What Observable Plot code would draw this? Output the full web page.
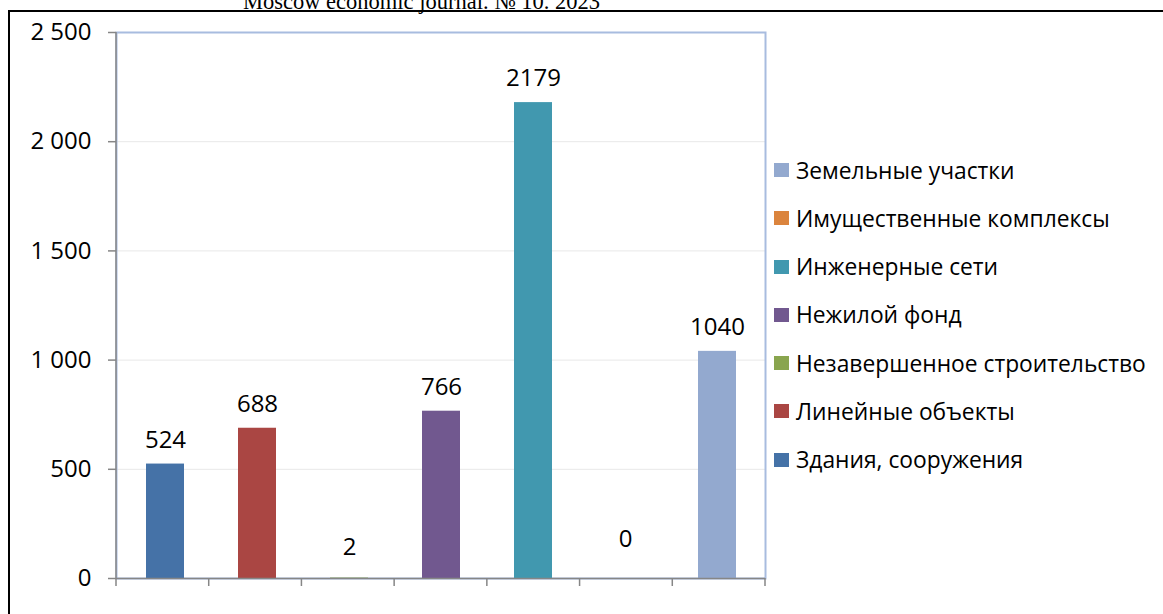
<!DOCTYPE html>
<html><head><meta charset="utf-8">
<script src="https://cdn.jsdelivr.net/npm/d3@7"></script>
<script src="https://cdn.jsdelivr.net/npm/@observablehq/plot@0.6"></script>
<style>
html,body{margin:0;padding:0;background:#fff;overflow:hidden}
#wrap{position:relative;width:1163px;height:614px;overflow:hidden;background:#fff}
#title{position:absolute;left:243px;top:-10px;font-family:"Liberation Serif","Times New Roman",serif;font-size:22.5px;line-height:24px;white-space:nowrap;color:#000}
#frame{position:absolute;left:8px;top:10px;width:2000px;height:2000px;border-top:2px solid #000;border-left:2px solid #000;box-sizing:border-box}
#chart{position:absolute;left:0;top:0}
#legend{position:absolute;left:774px;top:146px;font-family:"Open Sans",sans-serif;font-size:22.8px;color:#000}
#legend .row{display:flex;align-items:center;height:48.25px;white-space:nowrap}
#legend .sw{width:15px;height:14px;margin-right:7px;flex:none}
</style></head>
<body>
<div id="wrap">
  <div id="title">Moscow economic journal. № 10. 2023</div>
  <div id="frame"></div>
  <div id="chart"></div>
  <div id="legend"></div>
</div>
<script>
const categories = ["Здания, сооружения","Линейные объекты","Незавершенное строительство","Нежилой фонд","Инженерные сети","Имущественные комплексы","Земельные участки"];
const values = [524, 688, 2, 766, 2179, 0, 1040];
const colors = ["#4572a7","#aa4643","#89a54e","#71588f","#4198af","#db843d","#93a9cf"];
const yTicks = [0, 500, 1000, 1500, 2000, 2500];

const data = categories.map((c, i) => ({category: c, value: values[i]}));
const axisGray = "#868686";
const fmt = d3.formatLocale({thousands: " ", grouping: [3], decimal: ","}).format(",");

const boundaryTicks = (index, scales, vals, dims) => {
  const {marginLeft, marginRight, marginTop, marginBottom, width, height} = dims;
  const g = d3.create("svg:g").attr("stroke", axisGray).attr("stroke-width", 1.5);
  const y0 = height - marginBottom;
  g.append("line").attr("x1", marginLeft).attr("x2", marginLeft).attr("y1", marginTop).attr("y2", y0);
  const n = categories.length;
  const step = (width - marginLeft - marginRight) / n;
  for (let i = 0; i <= n; i++) {
    const x = marginLeft + i * step;
    g.append("line").attr("x1", x).attr("x2", x).attr("y1", y0).attr("y2", y0 + 8);
  }
  return g.node();
};

const small = d => d.value < 5;
const plot = Plot.plot({
  width: 1163, height: 614,
  marginLeft: 116, marginRight: 398, marginTop: 32, marginBottom: 36,
  style: {fontFamily: "'Open Sans', sans-serif", fontSize: "24px", color: "#000", background: "transparent", overflow: "visible"},
  x: {domain: categories, paddingInner: 0.59, paddingOuter: 0.295, axis: null},
  y: {domain: [0, 2500], axis: null},
  color: {domain: categories, range: colors},
  marks: [
    Plot.ruleY(yTicks.slice(1, -1), {stroke: "#e8e8e8", strokeWidth: 1}),
    Plot.frame({stroke: "#a8bcdf", strokeWidth: 2}),
    Plot.barY(data, {x: "category", y: "value", fill: "category"}),
    Plot.ruleY([0], {stroke: axisGray, strokeWidth: 1.5}),
    boundaryTicks,
    Plot.axisY({ticks: yTicks, tickFormat: fmt, tickSize: 8, tickPadding: 17, stroke: axisGray, strokeWidth: 1.5, fill: "#000", label: null, fontSize: 24}),
    Plot.text(data.filter(d => !small(d)), {x: "category", y: "value", text: d => String(d.value), dy: -24, fill: "#000", fontSize: 24}),
    Plot.text(data.filter(d => small(d) && d.value > 0), {x: "category", y: "value", text: d => String(d.value), dy: -31, fill: "#000", fontSize: 24}),
    Plot.text(data.filter(d => d.value === 0), {x: "category", y: "value", text: d => String(d.value), dy: -39, fill: "#000", fontSize: 24})
  ]
});
document.getElementById("chart").appendChild(plot);

const legend = document.getElementById("legend");
categories.slice().reverse().forEach(c => {
  const row = document.createElement("div");
  row.className = "row";
  const sw = document.createElement("span");
  sw.className = "sw";
  sw.style.background = colors[categories.indexOf(c)];
  const t = document.createElement("span");
  t.textContent = c;
  row.appendChild(sw); row.appendChild(t);
  legend.appendChild(row);
});
</script>
</body></html>
